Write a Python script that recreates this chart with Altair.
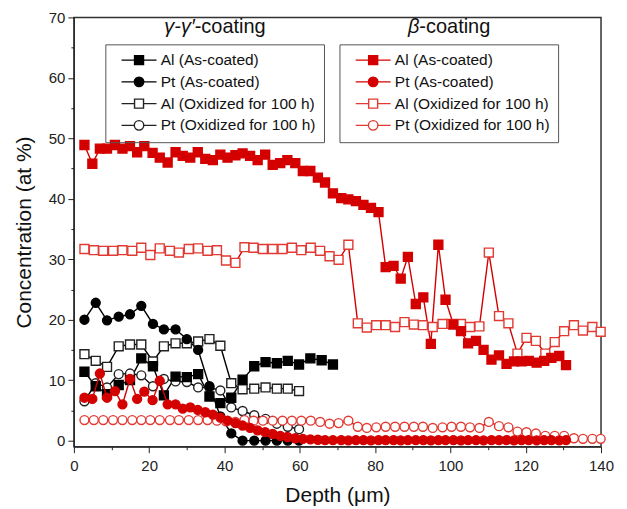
import altair as alt
import pandas as pd

# ---------------- data ----------------
LABELS = ["Al (As-coated)", "Pt (As-coated)", "Al (Oxidized for 100 h)", "Pt (Oxidized for 100 h)"]
TITLE_PARTS = ["γ-γ′", "-coating", "β", "-coating"]

# gamma-gamma' coating (black)
g_depth = [2.8, 5.8, 8.8, 11.9, 14.9, 17.9, 21.0, 23.9, 27.0, 30.0, 33.0, 36.0, 38.9,
           41.8, 44.8, 47.9, 50.9, 53.9, 56.8, 59.8, 62.8, 65.8, 68.8]
g_al_as = [11.4, 9.0, 7.7, 9.2, 10.0, 13.6, 12.3, 7.5, 10.6, 10.5, 11.0, 7.3, 6.2,
           7.1, 10.1, 12.3, 13.0, 12.8, 13.2, 12.6, 13.6, 13.3, 12.6]
g_pt_as = [20.0, 22.8, 19.9, 20.5, 20.9, 22.3, 19.3, 18.4, 18.4, 16.8, 15.0, 9.0, 4.0,
           1.2, 0.0, 0.0, 0.0, 0.0, 0.0, 0.0]
g_al_ox = [14.3, 13.2, 12.2, 15.6, 15.9, 15.9, 13.1, 15.6, 16.1, 16.1, 16.4, 16.8, 15.7,
           9.5, 8.5, 8.6, 8.8, 8.6, 8.6, 8.2]
g_pt_ox = [6.5, 9.5, 8.8, 11.0, 11.1, 10.8, 9.0, 10.2, 9.8, 9.7, 8.8, 8.8, 8.3,
           5.5, 4.9, 4.2, 3.6, 2.8, 2.3, 1.9]

# beta coating (red)
b_depth_as = [2.8, 4.9, 6.9, 8.8, 10.9, 12.9, 14.9, 16.8, 18.7, 20.9, 22.8, 24.9, 27.0,
              28.9, 30.9, 32.9, 34.9, 36.9, 38.9, 40.8, 42.9, 44.8, 46.8, 48.8, 50.8,
              52.8, 54.8, 56.7, 58.8, 60.8, 62.8, 64.8, 66.7, 68.8, 71.0, 72.9, 74.9,
              76.9, 78.9, 80.9, 82.8, 84.9, 86.8, 88.7, 90.8, 92.8, 94.8, 96.8, 98.7,
              100.8, 102.8, 104.7, 106.8, 108.8, 110.9, 112.9, 114.9, 116.9, 118.9,
              120.8, 122.9, 124.9, 126.8, 128.9, 130.7]
b_al_as = [48.9, 45.8, 48.3, 48.3, 48.9, 48.3, 48.7, 47.7, 48.7, 47.6, 46.8, 46.0, 47.7,
           47.1, 46.8, 47.7, 46.6, 46.4, 47.3, 46.8, 47.2, 47.5, 47.1, 46.4, 47.3,
           45.6, 45.9, 46.4, 45.9, 44.6, 44.6, 43.5, 42.7, 40.9, 40.1, 39.9, 39.6,
           39.0, 38.5, 37.8, 28.7, 28.9, 26.8, 30.4, 22.6, 23.7, 16.0, 32.4, 23.3,
           19.2, 18.1, 16.1, 16.5, 15.0, 13.4, 14.1, 12.7, 13.1, 13.1,
           13.2, 12.9, 13.2, 13.7, 14.0, 12.5]
b_pt_as = [7.1, 6.9, 11.1, 7.1, 8.2, 6.0, 10.2, 6.9, 8.1, 6.7, 9.9, 6.0, 6.0,
           5.3, 5.5, 5.1, 4.7, 4.3, 3.8, 3.3, 2.9, 2.5, 2.1, 1.7, 1.4,
           1.1, 0.8, 0.6, 0.4, 0.3, 0.2, 0.15, 0.1, 0.1, 0.1, 0.05, 0.1,
           0.1, 0.05, 0.1, 0.1, 0.1, 0.05, 0.1, 0.1, 0.1, 0.05, 0.1, 0.1,
           0.1, 0.05, 0.1, 0.1, 0.05, 0.1, 0.1, 0.1, 0.05, 0.1,
           0.1, 0.05, 0.1, 0.1, 0.05, 0.1]
b_depth_ox = [2.8, 5.3, 7.8, 10.4, 12.9, 15.5, 17.9, 20.3, 22.8, 25.5, 27.9, 30.5, 33.0,
              35.5, 38.0, 40.4, 42.9, 45.3, 47.7, 50.2, 52.8, 55.4, 57.9, 60.4, 62.9,
              65.4, 67.9, 70.3, 72.9, 75.4, 77.8, 80.3, 82.8, 85.3, 87.8, 90.3, 92.7,
              95.3, 97.9, 100.3, 102.8, 105.2, 107.7, 110.2, 112.9, 115.4, 117.8,
              120.2, 122.7, 125.2, 127.7, 130.2, 132.8, 135.2, 137.7, 139.9]
b_al_ox = [31.7, 31.5, 31.4, 31.4, 31.5, 31.4, 31.9, 30.7, 31.8, 31.4, 31.1, 31.7, 31.8,
           31.4, 31.5, 29.8, 29.4, 32.0, 31.9, 31.7, 31.7, 31.7, 31.9, 31.5, 31.9,
           31.4, 30.5, 29.9, 32.4, 19.4, 18.7, 19.1, 19.1, 18.8, 19.6, 19.2, 19.1,
           18.8, 19.3, 19.3, 19.3, 18.8, 18.9, 31.1, 20.6, 19.4, 14.4,
           17.0, 16.5, 14.4, 16.3, 18.1, 19.1, 18.2, 18.8, 18.0]
b_pt_ox = [3.4, 3.4, 3.4, 3.4, 3.4, 3.4, 3.4, 3.4, 3.4, 3.4, 3.4, 3.4, 3.4,
           3.4, 3.3, 3.2, 3.1, 3.4, 3.3, 3.3, 3.3, 3.3, 3.3, 3.3, 3.3,
           3.1, 2.8, 2.9, 3.3, 2.3, 2.1, 2.2, 2.3, 2.3, 2.3, 2.3, 2.3,
           2.1, 2.2, 2.3, 2.3, 2.2, 2.1, 3.1, 2.4, 2.2, 1.5,
           1.4, 1.2, 0.8, 0.8, 0.8, 0.4, 0.3, 0.3, 0.3]


def series(depths, values, name, order):
    n = len(values)
    return pd.DataFrame({"depth": depths[:n], "conc": values, "series": name, "order": order})


black_df = pd.concat([
    series(g_depth, g_al_as, LABELS[0], 0),
    series(g_depth, g_pt_as, LABELS[1], 1),
    series(g_depth, g_al_ox, LABELS[2], 2),
    series(g_depth, g_pt_ox, LABELS[3], 3),
], ignore_index=True)

red_df = pd.concat([
    series(b_depth_ox, b_pt_ox, LABELS[3], 3),
    series(b_depth_ox, b_al_ox, LABELS[2], 2),
    series(b_depth_as, b_pt_as, LABELS[1], 1),
    series(b_depth_as, b_al_as, LABELS[0], 0),
], ignore_index=True)

title_df = pd.DataFrame({"t": TITLE_PARTS})

# ---------------- styling ----------------
FONT = "Liberation Sans"
BLACK = "#000000"
RED = "#d40000"
RED_OPEN = "#e23a33"

SQ = "M-3.5,0H-0.9M0.9,0H3.5M-0.9,-0.9H0.9V0.9H-0.9Z"
CI = ("M-3.5,0H-0.95M0.95,0H3.5M0.95,0"
      "A0.95,0.95,0,1,1,-0.95,0A0.95,0.95,0,1,1,0.95,0Z")

x_axis = alt.Axis(
    values=list(range(0, 141, 10)),
    labelExpr="datum.value % 20 == 0 ? datum.label : ''",
    tickSize={"condition": {"test": "datum.value % 20 == 0", "value": 6}, "value": 3},
    grid=False, labelFont=FONT, labelFontSize=15, labelColor="#222",
    titleFont=FONT, titleFontSize=21, titleFontWeight="normal", titleColor="#111",
    domainColor="#222", tickColor="#222", labelPadding=6, titlePadding=11,
    labelFlush=False, labelOverlap=False,
)
y_axis = alt.Axis(
    values=list(range(0, 71, 5)),
    labelExpr="datum.value % 10 == 0 ? datum.label : ''",
    tickSize={"condition": {"test": "datum.value % 10 == 0", "value": 6}, "value": 3},
    grid=False, labelFont=FONT, labelFontSize=15, labelColor="#222",
    titleFont=FONT, titleFontSize=21, titleFontWeight="normal", titleColor="#111",
    domainColor="#222", tickColor="#222", labelPadding=3, titlePadding=14,
    labelFlush=False, labelOverlap=False,
)

X = alt.X("depth:Q", scale=alt.Scale(domain=[0, 140], nice=False), axis=x_axis,
          title="Depth (μm)")
Y = alt.Y("conc:Q", scale=alt.Scale(domain=[-1, 70], nice=False), axis=y_axis,
          title="Concentration (at %)")


def group(df, color, open_color, lx, ly):
    line = alt.Chart(df).mark_line(strokeWidth=1.4, color=color).encode(
        x=X, y=Y, detail="series:N", order="depth:Q")
    shape_scale = alt.Scale(domain=LABELS, range=["square", "circle", "square", "circle"])
    fill_scale = alt.Scale(domain=LABELS, range=[color, color, "#ffffff", "#ffffff"])
    stroke_scale = alt.Scale(domain=LABELS, range=[color, color, open_color, open_color])
    pts = alt.Chart(df).mark_point(filled=False, strokeWidth=1.4, size=80, opacity=1).encode(
        x=X, y=Y,
        shape=alt.Shape("series:N", scale=shape_scale, legend=None),
        fill=alt.Fill("series:N", scale=fill_scale, legend=None),
        color=alt.Color("series:N", scale=stroke_scale, legend=None),
        order=alt.Order("order:Q", sort="descending"),
    )
    L = alt.Legend(
        title=None, orient="none", legendX=lx, legendY=ly,
        strokeColor="#555", padding=8, symbolSize=100, symbolStrokeWidth=1.4,
        symbolOpacity=1,
        labelFont=FONT, labelFontSize=15.5, labelColor="#111", labelLimit=400,
        symbolOffset=18, labelOffset=14, rowPadding=4.8,
    )
    leg_shape = alt.Scale(domain=LABELS, range=[SQ, CI, SQ, CI])
    leg = alt.Chart(df).transform_filter("false").mark_point(
        filled=False, strokeWidth=1.4, opacity=1).encode(
        x=X, y=Y,
        shape=alt.Shape("series:N", scale=leg_shape, legend=L),
        fill=alt.Fill("series:N", scale=fill_scale, legend=L),
        color=alt.Color("series:N", scale=stroke_scale, legend=L),
    )
    return [line, pts, leg]


TY = 10
titles = [
    alt.Chart(title_df).transform_filter(alt.datum.t == TITLE_PARTS[0]).mark_text(
        align="right", baseline="middle", fontStyle="italic", font=FONT, fontSize=20,
        color="#111").encode(text="t:N", x=alt.value(121), y=alt.value(TY)),
    alt.Chart(title_df.iloc[[1]]).mark_text(
        align="left", baseline="middle", font=FONT, fontSize=20,
        color="#111").encode(text="t:N", x=alt.value(121), y=alt.value(TY)),
    alt.Chart(title_df).transform_filter(alt.datum.t == TITLE_PARTS[2]).mark_text(
        align="right", baseline="middle", fontStyle="italic", font=FONT, fontSize=20,
        color="#111").encode(text="t:N", x=alt.value(346), y=alt.value(TY)),
    alt.Chart(title_df.iloc[[3]]).mark_text(
        align="left", baseline="middle", font=FONT, fontSize=20,
        color="#111").encode(text="t:N", x=alt.value(346), y=alt.value(TY)),
]

layers = group(black_df, BLACK, "#222222", 31.5, 27) + group(red_df, RED, RED_OPEN, 266, 27) + titles

chart = alt.layer(*layers).resolve_scale(
    shape="independent", fill="independent", color="independent"
).properties(
    width=528, height=430,
    padding={"left": 5, "top": 2, "right": 5, "bottom": 5},
).configure_view(stroke="#333", strokeWidth=1.5)

chart.save("out.html", embed_options={"renderer": "svg", "actions": False})
